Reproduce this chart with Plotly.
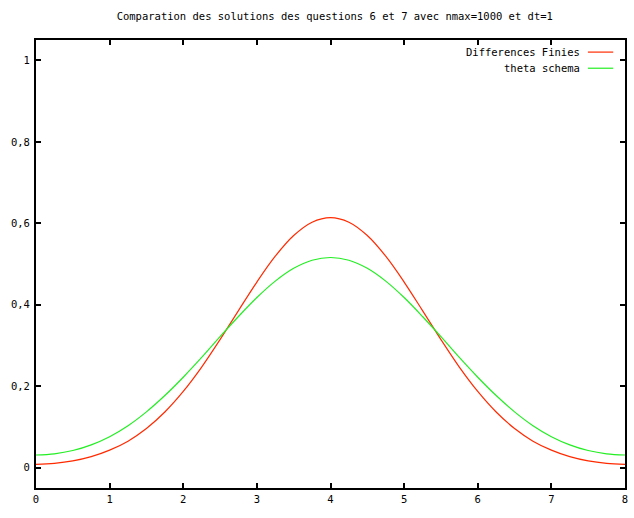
import plotly.graph_objects as go

x_vals = [0, 0.25, 0.5, 0.75, 1, 1.25, 1.5, 1.75, 2, 2.25, 2.5, 2.75, 3, 3.25, 3.5, 3.75, 4,
          4.25, 4.5, 4.75, 5, 5.25, 5.5, 5.75, 6, 6.25, 6.5, 6.75, 7, 7.25, 7.5, 7.75, 8]

diff_finies = [0.008, 0.0105, 0.0165, 0.027, 0.043, 0.065, 0.096, 0.1365, 0.187, 0.2468,
               0.3144, 0.3856, 0.4557, 0.5191, 0.5699, 0.6027, 0.614,
               0.6027, 0.5699, 0.5191, 0.4557, 0.3856, 0.3144, 0.2468, 0.187, 0.1365,
               0.096, 0.065, 0.043, 0.027, 0.0165, 0.0105, 0.008]

theta_schema = [0.031, 0.034, 0.042, 0.056, 0.076, 0.103, 0.137, 0.177, 0.222, 0.2705,
                0.3216, 0.3711, 0.4177, 0.458, 0.4894, 0.5092, 0.516,
                0.5092, 0.4894, 0.458, 0.4177, 0.3711, 0.3216, 0.2705, 0.222, 0.177,
                0.137, 0.103, 0.076, 0.056, 0.042, 0.034, 0.031]

x_ticks = [0, 1, 2, 3, 4, 5, 6, 7, 8]
x_tick_labels = ["0", "1", "2", "3", "4", "5", "6", "7", "8"]
y_ticks = [0, 0.2, 0.4, 0.6, 0.8, 1]
y_tick_labels = ["0", "0,2", "0,4", "0,6", "0,8", "1"]

series_names = ["Differences Finies", "theta schema"]
series_colors = ["#ff2a00", "#22ee22"]

title = "Comparation des solutions des questions 6 et 7 avec nmax=1000 et dt=1"

FONT = "DejaVu Sans Mono"

fig = go.Figure()
for name, ys, col in zip(series_names, [diff_finies, theta_schema], series_colors):
    fig.add_trace(go.Scatter(x=x_vals, y=ys, mode="lines", name=name,
                             line=dict(color=col, width=1.2, shape="spline"),
                             showlegend=False))

# gnuplot-style legend: text then line sample
legend_y = [0.973, 0.937]
for name, col, ly in zip(series_names, series_colors, legend_y):
    fig.add_annotation(x=0.927, y=ly, xref="paper", yref="paper", text=name,
                       showarrow=False, xanchor="right", yanchor="middle",
                       font=dict(family=FONT, size=10.5, color="black"))
    fig.add_shape(type="line", xref="paper", yref="paper",
                  x0=0.937, x1=0.98, y0=ly, y1=ly,
                  line=dict(color=col, width=1.2))

axis_common = dict(showgrid=False, zeroline=False, showline=True, linecolor="black",
                   linewidth=2, ticks="inside", ticklen=5, tickwidth=2, tickcolor="black",
                   mirror="ticks", tickfont=dict(family=FONT, size=10.5, color="black"))

fig.update_layout(
    width=634, height=518,
    margin=dict(l=36, r=6, t=40, b=30),
    paper_bgcolor="white", plot_bgcolor="white",
    title=dict(text=title, x=0.528, xanchor="center", y=0.968, yanchor="middle",
               font=dict(family=FONT, size=10.5, color="black")),
    xaxis=dict(range=[0, 8], tickvals=x_ticks, ticktext=x_tick_labels, **axis_common),
    yaxis=dict(range=[-0.05, 1.05], tickvals=y_ticks, ticktext=y_tick_labels,
               ticklabelstandoff=2, **axis_common),
)

fig.write_html("out.html")
